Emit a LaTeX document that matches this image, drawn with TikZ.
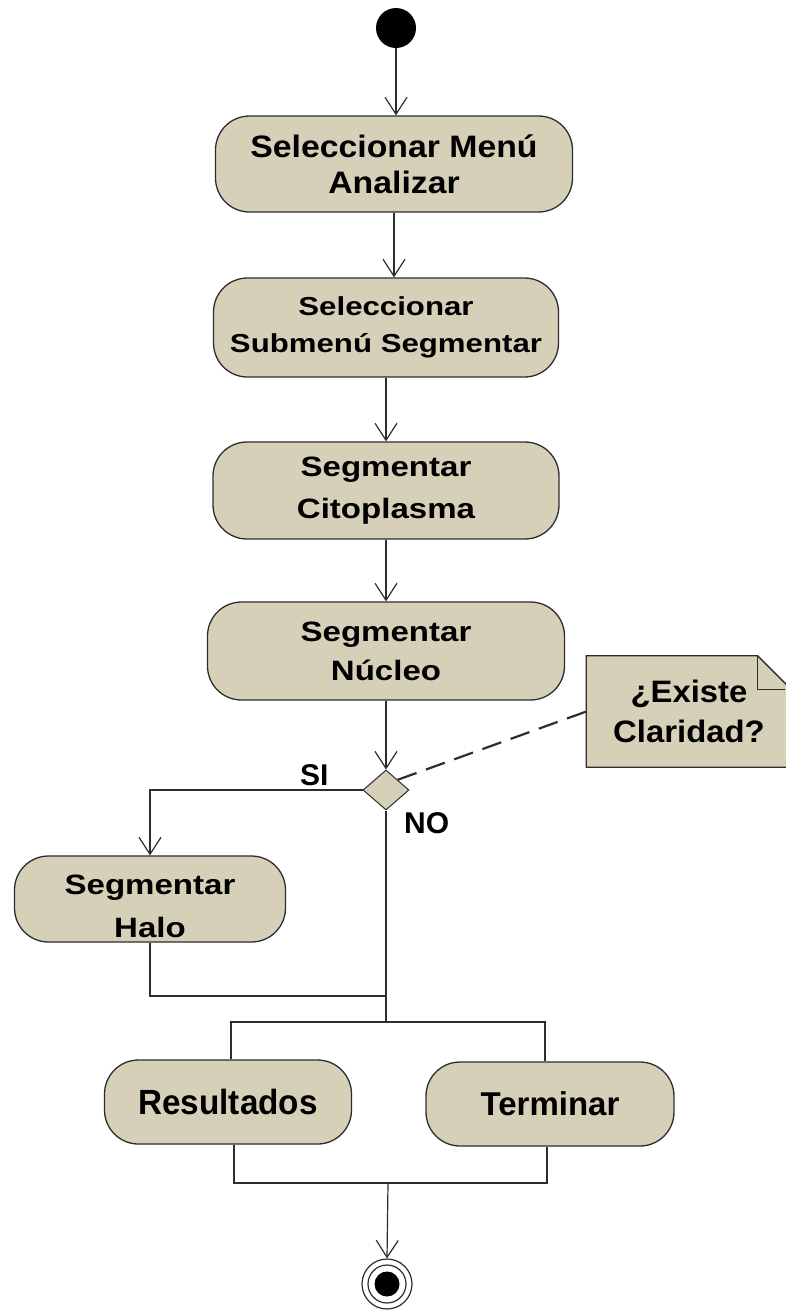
\documentclass[tikz,border=0pt]{standalone}
\usepackage{fontspec}
\setmainfont{Liberation Sans}
% bold faces with the set widths of each group of labels
\newfontfamily\fA[FakeStretch=1.09]{Liberation Sans Bold}
\newfontfamily\fB[FakeStretch=1.20]{Liberation Sans Bold}
\newfontfamily\fC[FakeStretch=1.18]{Liberation Sans Bold}
\newfontfamily\fR[FakeStretch=0.95]{Liberation Sans Bold}
\newfontfamily\fT[FakeStretch=1.00]{Liberation Sans Bold}
\newfontfamily\fN[FakeStretch=1.06]{Liberation Sans Bold}
\usetikzlibrary{arrows.meta,shapes.geometric,backgrounds}
\definecolor{beige}{RGB}{214,208,185}
\definecolor{ink}{RGB}{45,45,45}

\begin{document}
\begin{tikzpicture}[x=1pt,y=-1pt,
  act/.style={draw=ink, line width=1.3pt, fill=beige, rounded corners=34pt,
    inner sep=0pt, align=center, text=black},
  flow/.style={draw=ink, line width=1.2pt},
  arr/.style={flow, -{Straight Barb[length=17pt,width=22pt,line width=1.2pt]}},
  lbl/.style={inner sep=0pt, font=\fT\fontsize{30}{36}\selectfont},
]
\useasboundingbox (0,0) rectangle (785,1310);
\clip (0,0) rectangle (785,1310);

% initial and final states
\node[circle, fill=black, minimum size=40pt, inner sep=0pt] (start) at (396,28) {};
\node[circle, draw=ink, line width=1.2pt, minimum size=50pt, inner sep=0pt] (end) at (387,1284) {};
\node[circle, draw=ink, line width=1.2pt, minimum size=38pt, inner sep=0pt] (endring) at (end) {};
\node[circle, fill=black, minimum size=25pt, inner sep=0pt] (enddot) at (end) {};

% activities
\node[act, minimum width=357pt, minimum height=96pt,
  font=\fA\fontsize{31}{36}\selectfont] (a1) at (394,164) {Seleccionar Menú\\Analizar};
\node[act, minimum width=345pt, minimum height=99pt,
  font=\fB\fontsize{26}{37}\selectfont] (a2) at (386,327.5) {Seleccionar\\Submenú Segmentar};
\node[act, minimum width=346pt, minimum height=97pt,
  font=\fC\fontsize{28}{42}\selectfont] (a3) at (386,490.5) {Segmentar\\Citoplasma};
\node[act, minimum width=357pt, minimum height=98pt,
  font=\fC\fontsize{28}{39}\selectfont] (a4) at (386,651) {Segmentar\\Núcleo};
\node[act, minimum width=271pt, minimum height=86pt,
  font=\fC\fontsize{28}{43}\selectfont] (halo) at (150,899) {\rule{0pt}{34pt}Segmentar\\Halo};
\node[act, minimum width=247pt, minimum height=84pt,
  font=\fR\fontsize{35}{40}\selectfont] (res) at (228,1102) {Resultados};
\node[act, minimum width=248pt, minimum height=84pt,
  font=\fT\fontsize{33}{40}\selectfont] (term) at (550,1104) {Terminar};

% decision
\node[diamond, draw=ink, line width=1pt, fill=beige, minimum width=46pt,
  minimum height=40pt, inner sep=0pt] (d) at (386,790) {};

% comment note with folded corner
\node[inner sep=0pt, minimum width=205pt, minimum height=111pt, align=center,
  font=\fN\fontsize{31}{40}\selectfont] (note) at (689,711.5) {¿Existe\\Claridad?};
\begin{scope}[on background layer]
  \filldraw[fill=beige, draw=ink, line width=1.3pt]
    (note.north west) -- ([xshift=-34pt]note.north east)
    -- ([yshift=-34pt]note.north east) -- (note.south east)
    -- (note.south west) -- cycle;
\end{scope}
\draw[ink, line width=1.2pt] ([xshift=-34pt]note.north east)
  -- ([xshift=-34pt,yshift=-34pt]note.north east) -- ([yshift=-34pt]note.north east);

% control flow
\draw[arr] (start) -- (start |- a1.north);
\draw[arr] (a1.south) -- (a1.south |- a2.north);
\draw[arr] (a2.south) -- (a2.south |- a3.north);
\draw[arr] (a3.south) -- (a3.south |- a4.north);
\draw[arr] (a4.south -| d.north) -- (d.north);
\draw[arr] (d.west) -| (halo.north);
\draw[flow, line width=2.2pt, dash pattern=on 20pt off 10pt] (d.north east) -- (note.west);

\node[lbl, anchor=base west] (si) at (300,785) {SI};
\node[lbl, anchor=base west] (no) at (404,833) {NO};

\coordinate (merge) at (386,996);
\coordinate (fork) at (386,1022);
\coordinate (join) at (388,1183);
\draw[flow] (d.south) -- (fork);
\draw[flow] (halo.south) |- (merge);
\draw[flow] ([xshift=3pt]res.north) |- (fork) -| ([xshift=-5pt]term.north);
\draw[flow] ([xshift=6pt]res.south) |- (join) -| ([xshift=-3pt]term.south);
\draw[arr] (join) -- (end.north);
\end{tikzpicture}
\end{document}
